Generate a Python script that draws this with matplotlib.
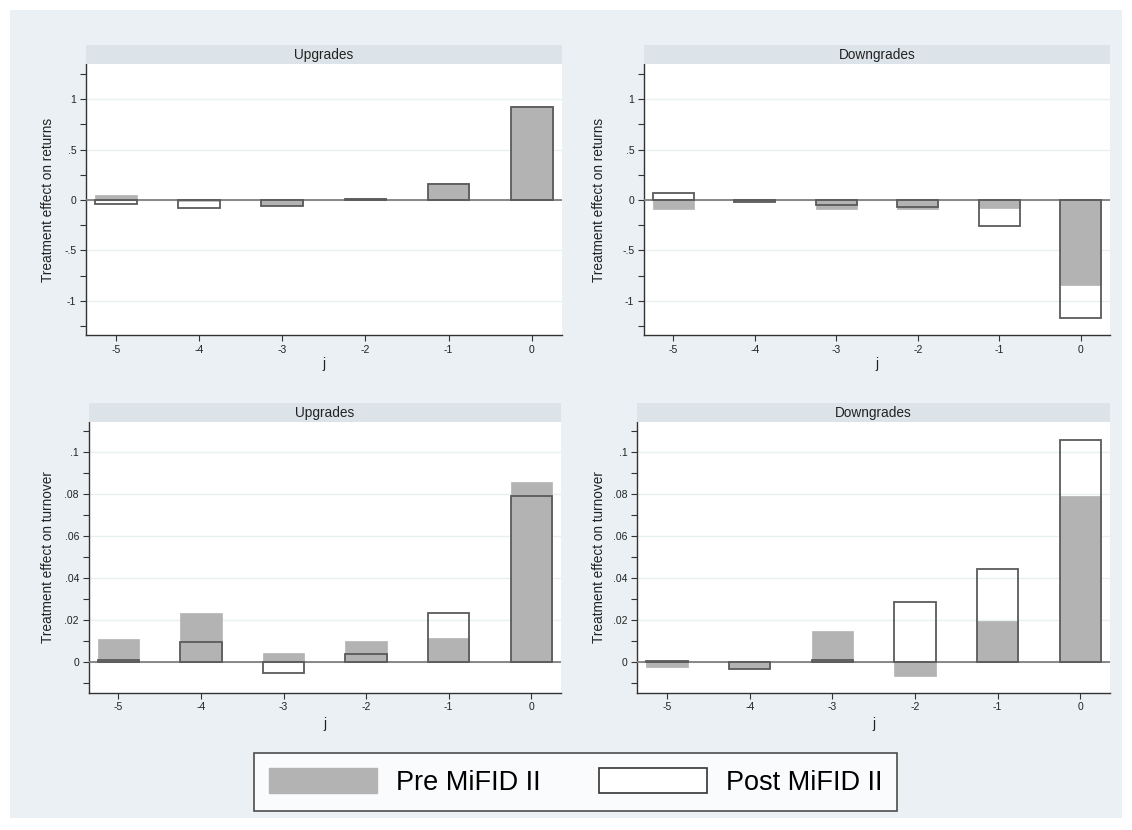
import numpy as np
import matplotlib
matplotlib.use("Agg")
import matplotlib.pyplot as plt
from matplotlib.patches import Patch, Rectangle
from matplotlib.ticker import FixedLocator, FuncFormatter

plt.rcParams['font.family'] = ['Liberation Sans', 'DejaVu Sans']

# event time
j = [-5, -4, -3, -2, -1, 0]

# treatment effect on returns
ret_up_pre = [0.046, -0.005, -0.045, 0.015, 0.165, 0.93]
ret_up_post = [-0.037, -0.08, -0.056, 0.012, 0.16, 0.925]
ret_down_pre = [-0.09, -0.01, -0.086, -0.09, -0.08, -0.84]
ret_down_post = [0.069, -0.015, -0.053, -0.073, -0.255, -1.17]

# treatment effect on turnover
turn_up_pre = [0.0111, 0.0236, 0.0046, 0.0103, 0.0116, 0.0859]
turn_up_post = [0.001, 0.0095, -0.0052, 0.004, 0.0236, 0.0792]
turn_down_pre = [-0.002, -0.0025, 0.0148, -0.0065, 0.0195, 0.0792]
turn_down_post = [0.0008, -0.003, 0.0014, 0.0289, 0.0446, 0.106]

titles = ["Upgrades", "Downgrades"]
legend_labels = ["Pre MiFID II", "Post MiFID II"]

BG = "#eaf0f3"
STRIP = "#dce4e9"
PRE = "#b3b3b3"
POST_EDGE = "#5a5a5a"
AXC = "#333333"
W, H = 1132, 830


def stata_fmt(v, pos=None):
    if abs(v) < 1e-12:
        return "0"
    s = f"{v:g}"
    s = s.replace("-0.", "-.")
    if s.startswith("0."):
        s = s[1:]
    return s


def panel(rect, pre, post, title, ylabel, ylim, major, minor, ylab_off, xlab_off):
    x0, y0, x1, y1 = rect  # pixel box (left, top, right, bottom)
    ax = fig.add_axes([x0 / W, (H - y1) / H, (x1 - x0) / W, (y1 - y0) / H])
    ax.set_facecolor("white")
    ax.bar(j, pre, width=0.5, color=PRE, edgecolor=PRE, linewidth=0.5, zorder=2)
    ax.bar(j, post, width=0.5, facecolor="none", edgecolor=POST_EDGE, linewidth=1.3, zorder=4)
    ax.axhline(0, color="#7f7f7f", linewidth=1.3, zorder=3)
    ax.set_xlim(-5.36, 0.36)
    ax.set_ylim(*ylim)
    ax.set_xticks(j)
    ax.set_xticklabels([str(v) for v in j])
    ax.yaxis.set_major_locator(FixedLocator(major))
    ax.yaxis.set_minor_locator(FixedLocator(minor))
    ax.yaxis.set_major_formatter(FuncFormatter(stata_fmt))
    ax.grid(axis="y", which="major", color="#e8f0f0", linewidth=1.0, zorder=0)
    ax.set_axisbelow(True)
    for s in ["top", "right"]:
        ax.spines[s].set_visible(False)
    for s in ["left", "bottom"]:
        ax.spines[s].set_color(AXC)
        ax.spines[s].set_linewidth(1.0)
    ax.tick_params(axis="both", which="both", direction="out", length=4, width=0.8,
                   color=AXC, labelsize=7.5, labelcolor="#222222", pad=3)
    ax.set_ylabel(ylabel, fontsize=9.8, color="#222222")
    ax.yaxis.set_label_coords(-ylab_off / (x1 - x0), 0.5)
    ax.set_xlabel("j", fontsize=9.8, color="#222222")
    ax.xaxis.set_label_coords(0.5, -xlab_off / (y1 - y0))
    # title strip
    sh = 19 / (y1 - y0)
    ax.add_patch(Rectangle((0, 1), 1, sh, transform=ax.transAxes, facecolor=STRIP,
                           edgecolor="none", clip_on=False, zorder=5))
    ax.text(0.5, 1 + sh / 2, title, transform=ax.transAxes, ha="center", va="center",
            fontsize=9.8, color="#222222", zorder=6)
    return ax


fig = plt.figure(figsize=(W / 100, H / 100), dpi=100)
fig.patch.set_facecolor("white")
fig.add_artist(Rectangle((10 / W, 12 / H), 1112 / W, 808 / H, transform=fig.transFigure,
                         facecolor=BG, edgecolor="none", zorder=0))

ret_major = [-1, -0.5, 0, 0.5, 1]
ret_minor = [-1.25, -0.75, -0.25, 0.25, 0.75, 1.25]
turn_major = [0, 0.02, 0.04, 0.06, 0.08, 0.1]
turn_minor = [-0.01, 0.01, 0.03, 0.05, 0.07, 0.09, 0.11]

panel((86, 64, 561.7, 335), ret_up_pre, ret_up_post, titles[0],
      "Treatment effect on returns", (-1.337, 1.347), ret_major, ret_minor, 31, 22)
panel((644, 64, 1110, 335), ret_down_pre, ret_down_post, titles[1],
      "Treatment effect on returns", (-1.337, 1.347), ret_major, ret_minor, 38, 22)
panel((88.7, 422, 561, 692.5), turn_up_pre, turn_up_post, titles[0],
      "Treatment effect on turnover", (-0.0143, 0.1144), turn_major, turn_minor, 33.7, 24.5)
panel((637.3, 422, 1110, 692.5), turn_down_pre, turn_down_post, titles[1],
      "Treatment effect on turnover", (-0.0143, 0.1144), turn_major, turn_minor, 31.3, 24.5)

handles = [Patch(facecolor=PRE, edgecolor=PRE),
           Patch(facecolor="white", edgecolor="#333333", linewidth=1.2)]
leg = fig.legend(handles, legend_labels, ncol=2, loc="center",
                 bbox_to_anchor=(575.5 / W, (H - 782) / H), fontsize=19.5,
                 frameon=True, fancybox=False, edgecolor="#222222",
                 handlelength=4.0, handleheight=1.05, handletextpad=0.7,
                 columnspacing=2.15, borderpad=0.55, borderaxespad=0)
leg.get_frame().set_linewidth(1.2)
leg.get_frame().set_facecolor("white")

plt.savefig("out.png", dpi=100, facecolor=fig.get_facecolor())
